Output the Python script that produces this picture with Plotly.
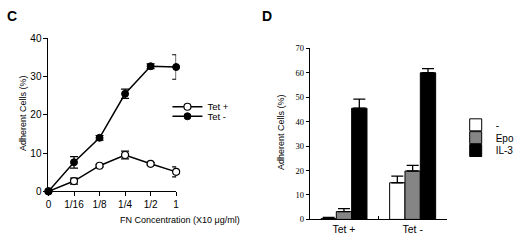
import plotly.graph_objects as go

# ---- Panel C data ----
fn_labels = ["0", "1/16", "1/8", "1/4", "1/2", "1"]
tet_plus = [0.0, 2.7, 6.7, 9.5, 7.2, 5.1]
tet_plus_err = [0.4, 0.8, 0.3, 1.0, 0.3, 1.3]
tet_minus = [0.0, 7.6, 14.0, 25.5, 32.7, 32.5]
tet_minus_err = [0.5, 1.5, 0.6, 1.2, 0.6, 3.2]

# ---- Panel D data ----
groups = ["Tet +", "Tet -"]
bar_none = [0.3, 15.0]
bar_none_err = [0.5, 2.7]
bar_epo = [3.2, 19.8]
bar_epo_err = [1.2, 2.3]
bar_il3 = [45.5, 60.0]
bar_il3_err = [3.7, 1.7]

W, H = 520, 243
def px(x):
    return x / W
def py(y):
    return 1 - y / H

SANS = "Liberation Sans, Arial, sans-serif"
SERIF = "Liberation Serif, Times New Roman, serif"

fig = go.Figure()

fig.add_trace(go.Scatter(
    x=fn_labels, y=tet_plus, name="Tet +", mode="lines+markers",
    line=dict(color="black", width=1.5),
    marker=dict(symbol="circle", size=7, color="white", line=dict(color="black", width=1.2)),
    error_y=dict(type="data", array=tet_plus_err, color="black", thickness=1.2, width=4),
    cliponaxis=False, xaxis="x", yaxis="y", legend="legend"))
fig.add_trace(go.Scatter(
    x=fn_labels, y=tet_minus, name="Tet -", mode="lines+markers",
    line=dict(color="black", width=1.5),
    marker=dict(symbol="circle", size=7, color="black", line=dict(color="black", width=1)),
    error_y=dict(type="data", array=tet_minus_err, color="black", thickness=1.2, width=4),
    cliponaxis=False, xaxis="x", yaxis="y", legend="legend2"))

zeros = [0, 0]
for name, vals, errs, col, lg in [("-", bar_none, bar_none_err, "white", "legend3"),
                                  ("Epo", bar_epo, bar_epo_err, "#858585", "legend4"),
                                  ("IL-3", bar_il3, bar_il3_err, "black", "legend5")]:
    fig.add_trace(go.Bar(
        x=groups, y=vals, name=name,
        marker=dict(color=col, line=dict(color="black", width=1)),
        error_y=dict(type="data", symmetric=False, array=errs, arrayminus=zeros,
                     color="black", thickness=1.3, width=6),
        xaxis="x2", yaxis="y2", legend=lg))

def axis_common(ticklen=4):
    return dict(showline=True, linecolor="black", linewidth=1, showgrid=False,
                zeroline=False, ticks="outside", tickcolor="black", ticklen=ticklen,
                tickwidth=1)

fig.update_layout(
    width=W, height=H, margin=dict(l=0, r=0, t=0, b=0),
    paper_bgcolor="white", plot_bgcolor="white",
    font=dict(family=SANS, color="black", size=9),
    barmode="group", bargap=0.33, bargroupgap=0,
    xaxis=dict(**axis_common(4), domain=[px(47), px(179)], type="category",
               range=[0, 5], anchor="y", tickfont=dict(size=10, family=SANS)),
    yaxis=dict(**axis_common(4), domain=[py(195), py(34)], range=[0, 40],
               tickvals=[0, 10, 20, 30, 40], anchor="x", tickfont=dict(size=10, family=SANS)),
    xaxis2=dict(showline=True, linecolor="black", linewidth=1, showgrid=False, zeroline=False,
                domain=[px(317), px(459)], type="category", range=[-0.5, 1.5],
                ticks="inside", tickson="boundaries", ticklen=3, tickcolor="black",
                anchor="y2", tickfont=dict(size=10.5, family=SANS)),
    yaxis2=dict(**axis_common(3), domain=[py(224.5), py(44.5)], range=[0, 70],
                tickvals=[0, 10, 20, 30, 40, 50, 60, 70], anchor="x2",
                tickfont=dict(size=8.5, family=SERIF)),
    showlegend=True,
)

leg_common = dict(bgcolor="rgba(0,0,0,0)", borderwidth=0, itemwidth=30,
                  xanchor="left", yanchor="middle", tracegroupgap=0,
                  font=dict(size=9.5, family=SANS))
leg_bar = dict(leg_common, font=dict(size=10, family=SANS))
fig.update_layout(
    legend=dict(**leg_common, x=px(170), y=py(106)),
    legend2=dict(**leg_common, x=px(170), y=py(116)),
    legend3=dict(**leg_bar, x=px(468), y=py(125)),
    legend4=dict(**leg_bar, x=px(468), y=py(138.5)),
    legend5=dict(**leg_bar, x=px(468), y=py(152)),
)

annotations = [
    dict(text="<b>C</b>", x=px(2), y=py(10), xref="paper", yref="paper",
         showarrow=False, xanchor="left", yanchor="middle", font=dict(size=14, family=SANS)),
    dict(text="<b>D</b>", x=px(266), y=py(10), xref="paper", yref="paper",
         showarrow=False, xanchor="left", yanchor="middle", font=dict(size=14, family=SANS)),
    dict(text="Adherent Cells (%)", x=px(14), y=py(113), xref="paper", yref="paper",
         showarrow=False, textangle=-90, font=dict(size=9, family=SANS)),
    dict(text="FN Concentration (X10 \u03bcg/ml)", x=px(119), y=py(233), xref="paper", yref="paper",
         showarrow=False, font=dict(size=9, family=SANS)),
    dict(text="Adherent Cells (%)", x=px(288), y=py(133), xref="paper", yref="paper",
         showarrow=False, textangle=-90, font=dict(size=9, family=SANS)),
]
fig.update_layout(annotations=annotations)

fig.write_html("out.html", config={"displayModeBar": False},
               post_script="document.body.style.margin='0';")
